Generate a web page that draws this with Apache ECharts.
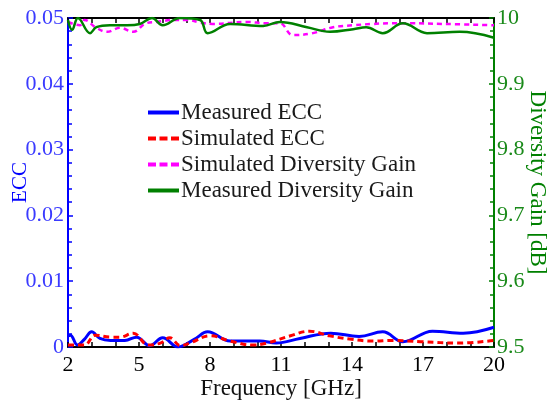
<!DOCTYPE html>
<html>
<head>
<meta charset="utf-8">
<script src="https://cdn.jsdelivr.net/npm/echarts@6/dist/echarts.min.js"></script>
<style>
  html, body { margin: 0; padding: 0; background: #fff; }
  #chart { width: 553px; height: 405px; }
</style>
</head>
<body>
<div id="chart"></div>
<script>
// Frequency sweep in GHz with ECC (left axis) and diversity gain in dB (right axis)
const measuredEccFreq = [2.0, 2.1, 2.4, 2.7, 3.0, 3.35, 3.8, 4.4, 4.9, 5.45, 6.0, 6.65, 7.35, 7.9, 8.85, 10.1, 10.8, 11.8, 13.1, 14.3, 15.3, 16.15, 17.4, 18.7, 20.0];
const measuredEcc     = [0.0017, 0.0018, 0.0003, 0.0012, 0.0023, 0.0013, 0.0010, 0.0010, 0.0015, 0.0002, 0.0014, 0.0000, 0.0012, 0.0023, 0.0009, 0.0009, 0.0006, 0.0013, 0.0021, 0.0016, 0.0023, 0.0008, 0.0024, 0.0021, 0.0030];

const simulatedEccFreq = [2.0, 2.7, 3.15, 3.8, 4.2, 4.75, 5.4, 5.9, 6.3, 6.75, 7.15, 8.0, 8.85, 9.8, 10.4, 11.4, 12.2, 13.05, 13.9, 14.9, 15.7, 16.9, 18.55, 20.0];
const simulatedEcc     = [0.0003, 0.0003, 0.0018, 0.0015, 0.0015, 0.0021, 0.0003, 0.0006, 0.0014, 0.0002, 0.0006, 0.0017, 0.0009, 0.0003, 0.0006, 0.0017, 0.0024, 0.0017, 0.0012, 0.0009, 0.0010, 0.0008, 0.0006, 0.0010];

const simulatedDgFreq = [2.0, 2.5, 2.7, 3.2, 3.65, 4.2, 4.75, 5.3, 5.75, 6.45, 7.0, 7.6, 8.1, 9.55, 10.4, 10.95, 11.5, 12.35, 13.2, 14.05, 14.9, 15.7, 16.45, 17.85, 20.0];
const simulatedDg     = [9.994, 9.989, 9.997, 9.985, 9.979, 9.985, 9.979, 9.992, 9.994, 9.997, 9.997, 9.993, 9.991, 9.994, 9.992, 9.992, 9.974, 9.977, 9.986, 9.989, 9.991, 9.992, 9.992, 9.991, 9.989];

const measuredDgFreq = [2.0, 2.17, 2.42, 2.93, 3.2, 3.77, 4.5, 5.04, 5.55, 6.0, 6.73, 7.58, 7.9, 8.85, 10.25, 10.95, 12.1, 13.07, 14.05, 14.6, 15.3, 16.15, 17.17, 18.55, 20.0];
const measuredDg     = [9.997, 9.982, 10.0, 9.977, 9.986, 9.989, 9.989, 9.991, 10.0, 9.989, 10.0, 9.997, 9.977, 9.991, 9.988, 9.994, 9.986, 9.979, 9.983, 9.986, 9.977, 9.992, 9.977, 9.979, 9.970];

const xTickLabels = [2, 5, 8, 11, 14, 17, 20];

const seriesNames = ['Measured ECC', 'Simulated ECC', 'Simulated Diversity Gain', 'Measured Diversity Gain'];

const pairs = (xs, ys) => xs.map((x, i) => [x, ys[i]]);

const FONT = 'Liberation Serif';
const BLUE = '#0000ff';
const GREEN = '#008000';

// legend swatches: a solid bar and a three-dash bar
const SOLID_ICON = 'path://M0,0h31v4h-31z';
const DASH_ICON = 'path://M0,0h8v4h-8z M11.5,0h8v4h-8z M23,0h8v4h-8z';

const chart = echarts.init(document.getElementById('chart'), null, { renderer: 'canvas' });

const xBase = {
  type: 'value',
  min: 2,
  max: 20,
  interval: 1,
  splitLine: { show: false },
  axisTick: { inside: true, length: 5, lineStyle: { color: '#000', width: 1.5 } }
};

chart.setOption({
  animation: false,
  backgroundColor: '#fff',
  grid: { left: 68, right: 59, top: 18, bottom: 58, containLabel: false, outerBoundsMode: 'none' },
  legend: {
    data: [
      { name: seriesNames[0], icon: SOLID_ICON },
      { name: seriesNames[1], icon: DASH_ICON },
      { name: seriesNames[2], icon: DASH_ICON },
      { name: seriesNames[3], icon: SOLID_ICON }
    ],
    orient: 'vertical',
    left: 143,
    top: 96,
    itemWidth: 31,
    itemHeight: 4,
    itemGap: 3,
    padding: 5,
    textStyle: { fontFamily: FONT, fontSize: 23, color: '#1a1a1a', lineHeight: 23, padding: [0, 0, 0, -3] }
  },
  xAxis: [
    Object.assign({}, xBase, {
      position: 'bottom',
      name: 'Frequency [GHz]',
      nameLocation: 'middle',
      nameGap: 30,
      nameMoveOverlap: false,
      nameTextStyle: { fontFamily: FONT, fontSize: 23, color: '#111' },
      axisLine: { show: true, onZero: false, lineStyle: { color: '#000', width: 2 } },
      axisLabel: {
        interval: 0,
        margin: 7,
        fontFamily: FONT,
        fontSize: 22,
        color: '#000',
        formatter: v => (xTickLabels.indexOf(Math.round(v)) >= 0 ? String(Math.round(v)) : '')
      }
    }),
    Object.assign({}, xBase, {
      position: 'top',
      axisLine: { show: true, onZero: false, lineStyle: { color: '#000', width: 2 } },
      axisLabel: { show: false }
    })
  ],
  yAxis: [
    {
      type: 'value',
      position: 'left',
      min: 0,
      max: 0.05,
      interval: 0.01,
      name: 'ECC',
      nameLocation: 'middle',
      nameGap: 37,
      nameMoveOverlap: false,
      nameTextStyle: { fontFamily: FONT, fontSize: 21, color: BLUE },
      splitLine: { show: false },
      axisLine: { show: true, onZero: false, lineStyle: { color: BLUE, width: 2 } },
      axisTick: { inside: true, length: 5, lineStyle: { color: BLUE, width: 1.5 } },
      minorTick: { show: true, splitNumber: 5, length: 4, lineStyle: { color: BLUE, width: 1.5 } },
      axisLabel: { margin: 4, fontFamily: FONT, fontSize: 22, color: '#3a3aff' }
    },
    {
      type: 'value',
      position: 'right',
      min: 9.5,
      max: 10,
      interval: 0.1,
      name: 'Diversity Gain [dB]',
      nameLocation: 'middle',
      nameGap: 32,
      nameMoveOverlap: false,
      nameRotate: -90,
      nameTextStyle: { fontFamily: FONT, fontSize: 23, color: GREEN },
      splitLine: { show: false },
      axisLine: { show: true, onZero: false, lineStyle: { color: GREEN, width: 2 } },
      axisTick: { inside: true, length: 5, lineStyle: { color: GREEN, width: 1.5 } },
      minorTick: { show: true, splitNumber: 5, length: 4, lineStyle: { color: GREEN, width: 1.5 } },
      axisLabel: {
        margin: 3,
        fontFamily: FONT,
        fontSize: 22,
        color: '#1a8a1a',
        formatter: v => (Math.abs(v - 10) < 1e-6 ? '10' : v.toFixed(1))
      }
    }
  ],
  series: [
    {
      name: seriesNames[0],
      type: 'line',
      xAxisIndex: 0,
      yAxisIndex: 0,
      smooth: 0.4,
      showSymbol: false,
      symbol: 'none',
      data: pairs(measuredEccFreq, measuredEcc),
      lineStyle: { color: BLUE, width: 3 },
      itemStyle: { color: BLUE },
      z: 3
    },
    {
      name: seriesNames[1],
      type: 'line',
      xAxisIndex: 0,
      yAxisIndex: 0,
      smooth: 0.4,
      showSymbol: false,
      symbol: 'none',
      data: pairs(simulatedEccFreq, simulatedEcc),
      lineStyle: { color: '#ff0000', width: 3, type: [6, 4] },
      itemStyle: { color: '#ff0000' },
      z: 4
    },
    {
      name: seriesNames[2],
      type: 'line',
      xAxisIndex: 0,
      yAxisIndex: 1,
      smooth: 0.4,
      showSymbol: false,
      symbol: 'none',
      data: pairs(simulatedDgFreq, simulatedDg),
      lineStyle: { color: '#ff00ff', width: 2.5, type: [5, 4] },
      itemStyle: { color: '#ff00ff' },
      z: 3
    },
    {
      name: seriesNames[3],
      type: 'line',
      xAxisIndex: 0,
      yAxisIndex: 1,
      smooth: 0.4,
      showSymbol: false,
      symbol: 'none',
      data: pairs(measuredDgFreq, measuredDg),
      lineStyle: { color: GREEN, width: 2.5 },
      itemStyle: { color: GREEN },
      z: 4
    }
  ]
});
</script>
</body>
</html>
